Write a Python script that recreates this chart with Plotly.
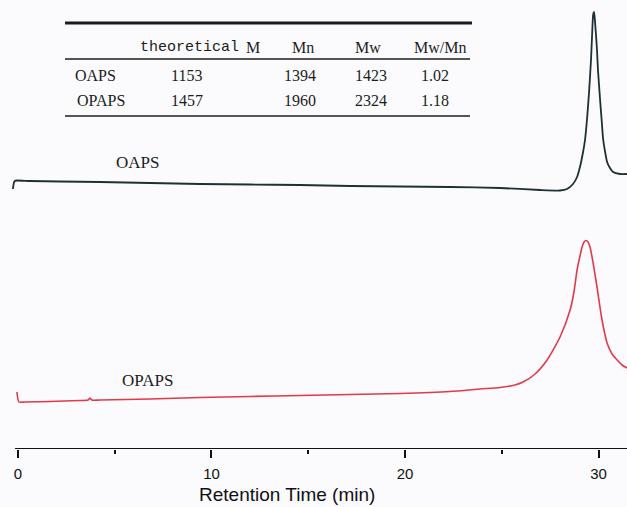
import plotly.graph_objects as go

# GPC traces: retention time (min) and detector response (arbitrary units)
oaps_time = [-0.26, -0.21, -0.16, -0.05, 0.62, 2.17, 4.24, 6.82, 9.41, 11.99,
             14.57, 17.16, 19.74, 22.33, 24.91, 26.98, 28.01, 28.37, 28.68, 28.89,
             29.04, 29.20, 29.30, 29.41, 29.51, 29.61, 29.66, 29.72, 29.77, 29.82,
             29.92, 29.97, 30.08, 30.18, 30.23, 30.34, 30.44, 30.59, 30.75, 31.11,
             31.47]
oaps_signal = [260, 266, 268, 268.5, 268, 267.5, 267, 266, 265, 264.5,
               264, 263, 262.5, 262, 261, 259, 258.5, 260, 265, 272,
               282, 297, 309, 331, 357, 389, 411, 434, 437, 427,
               399, 379, 349, 324, 311, 297, 287, 281, 277, 275,
               275]

opaps_time = [-0.05, 0.05, 0.36, 1.65, 3.20, 3.62, 3.72, 3.82, 4.24, 6.82,
              9.41, 11.99, 14.57, 17.16, 19.74, 22.33, 23.88, 24.91, 25.68, 26.10,
              26.72, 27.34, 28.01, 28.53, 28.73, 28.89, 29.04, 29.15, 29.25, 29.35,
              29.46, 29.56, 29.72, 29.92, 30.18, 30.44, 30.70, 30.96, 31.22, 31.47]
opaps_signal = [57, 47, 47, 47.5, 48.5, 49, 51, 49, 49, 50,
                51.5, 52.5, 53.5, 54.5, 55.5, 57.5, 60, 61.5, 64, 67,
                75, 89, 112, 139, 157, 179, 193, 202, 207, 208.5,
                207, 202, 186, 162, 129, 106, 95, 89, 84, 81]

# Molecular weight summary
table_header = ["Mn", "Mw", "Mw/Mn"]
sample_names = ["OAPS", "OPAPS"]
theoretical_m = ["1153", "1457"]
mn_values = ["1394", "1960"]
mw_values = ["1423", "2324"]
pdi_values = ["1.02", "1.18"]

tick_values = [0, 10, 20, 30]
minor_tick_values = [5, 15, 25]
x_title = "Retention Time (min)"

W, H = 627, 507
ML, MB = 10, 58
PW, PH = W - ML, H - MB
X0, X1 = -0.41, 31.47


def px(xp):
    return (xp - ML) / PW


def py(yp):
    return (PH - yp) / PH


SERIF = "Liberation Serif"
MONO = "Liberation Mono"
SANS = "Liberation Sans"
INK = "#1c1c1c"
AXIS = "#111111"

fig = go.Figure()
fig.add_trace(go.Scatter(x=oaps_time, y=oaps_signal, mode="lines",
                         line=dict(color="#1e3034", width=1.8, shape="spline", smoothing=0.5),
                         showlegend=False, hoverinfo="skip"))
fig.add_trace(go.Scatter(x=opaps_time, y=opaps_signal, mode="lines",
                         line=dict(color="#e23a4a", width=1.6, shape="spline", smoothing=0.6),
                         showlegend=False, hoverinfo="skip"))

shapes = [
    # x axis baseline
    dict(type="line", xref="x", yref="y", x0=-0.15, x1=X1, y0=0, y1=0,
         line=dict(color=AXIS, width=2)),
    # table rules
    dict(type="line", xref="paper", yref="paper", x0=px(65), x1=px(472), y0=py(23), y1=py(23),
         line=dict(color=INK, width=3)),
    dict(type="line", xref="paper", yref="paper", x0=px(65), x1=px(470), y0=py(59), y1=py(59),
         line=dict(color=INK, width=1.5)),
    dict(type="line", xref="paper", yref="paper", x0=px(65), x1=px(470), y0=py(116), y1=py(116),
         line=dict(color=INK, width=1.5)),
]

annotations = []


def add_text(text, xp, yp, font, size, xanchor="center", color=INK):
    annotations.append(dict(text=text, xref="paper", yref="paper", x=px(xp), y=py(yp),
                            xanchor=xanchor, yanchor="middle", showarrow=False,
                            font=dict(family=font, size=size, color=color)))


add_text("theoretical", 138, 47, MONO, 15, "left")
add_text("M", 253, 47, SERIF, 16)
for label, xc in zip(table_header, [303, 368, 440]):
    add_text(label, xc, 47, SERIF, 16)

for i, yrow in enumerate([75, 100]):
    add_text(sample_names[i], 73 + 2 * i, yrow, SERIF, 16, "left")
    add_text(theoretical_m[i], 187, yrow, SERIF, 16)
    add_text(mn_values[i], 300, yrow, SERIF, 16)
    add_text(mw_values[i], 371, yrow, SERIF, 16)
    add_text(pdi_values[i], 435, yrow, SERIF, 16)

# trace labels
add_text("OAPS", 137, 162, SERIF, 17)
add_text("OPAPS", 147, 380, SERIF, 17)

# axis title
add_text(x_title, 287, 494, SANS, 19, color=AXIS)

fig.update_layout(
    width=W, height=H,
    margin=dict(l=ML, r=0, t=0, b=MB),
    paper_bgcolor="#fbfbfe", plot_bgcolor="#fbfbfe",
    shapes=shapes, annotations=annotations,
    xaxis=dict(range=[X0, X1], tickmode="array", tickvals=tick_values,
               showline=False, showgrid=False, zeroline=False,
               ticks="outside", ticklen=8, tickwidth=2, tickcolor=AXIS,
               minor=dict(tickvals=minor_tick_values, ticks="outside", ticklen=4,
                          tickwidth=2, tickcolor=AXIS, showgrid=False),
               ticklabelstandoff=3,
               tickfont=dict(family=SANS, size=15, color=AXIS)),
    yaxis=dict(range=[0, PH], visible=False, showgrid=False, zeroline=False),
)

fig.write_html("out.html")
